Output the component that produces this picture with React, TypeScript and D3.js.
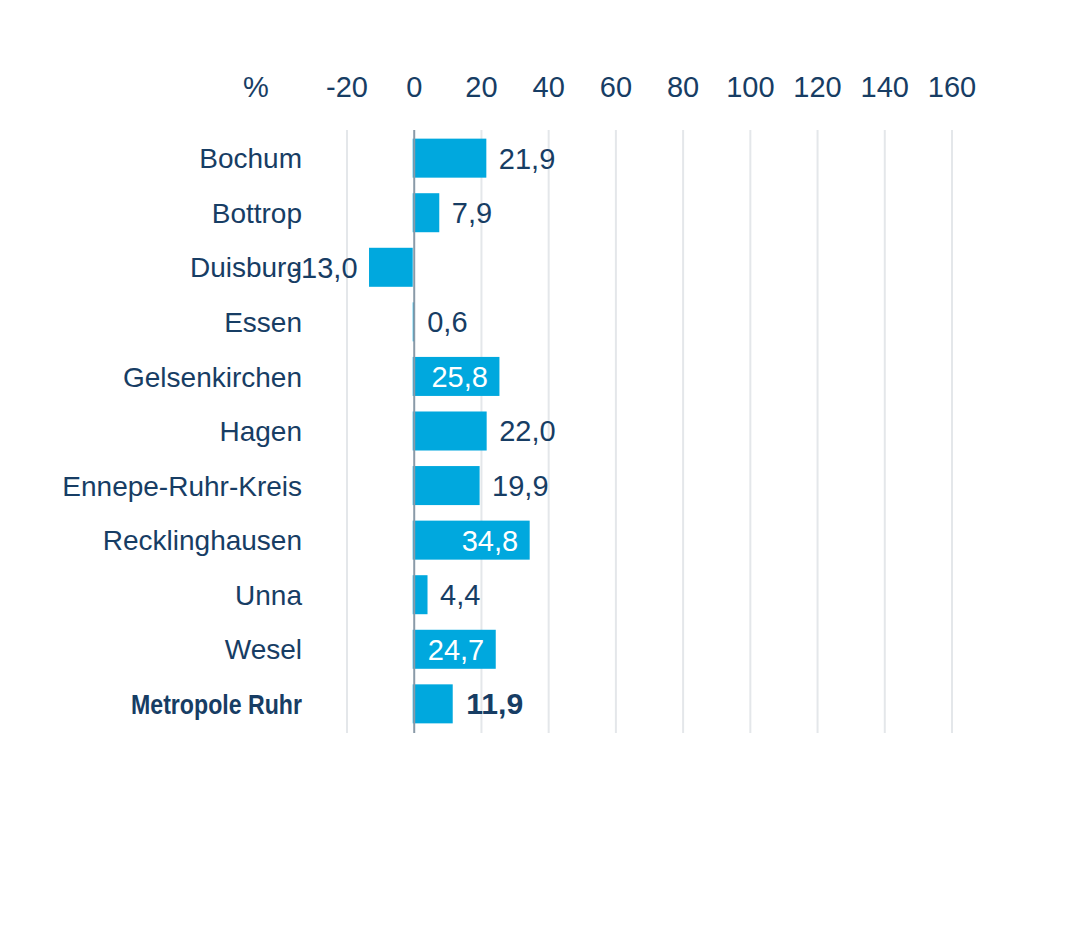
import React from 'react';
import * as d3 from 'd3';

const categories = [
  'Bochum',
  'Bottrop',
  'Duisburg',
  'Essen',
  'Gelsenkirchen',
  'Hagen',
  'Ennepe-Ruhr-Kreis',
  'Recklinghausen',
  'Unna',
  'Wesel',
  'Metropole Ruhr',
];
const values = [21.9, 7.9, -13.0, 0.6, 25.8, 22.0, 19.9, 34.8, 4.4, 24.7, 11.9];
const ticks = [-20, 0, 20, 40, 60, 80, 100, 120, 140, 160];
const totalLabel = 'Metropole Ruhr';
const unit = '%';

const width = 1080;
const height = 950;
const margin = { top: 130, bottom: 217, left: 346, right: 129 };
const navy = '#173d64';
const blue = '#00a8de';
const font = '"Liberation Sans", Arial, sans-serif';

const fmt = (v: number) => v.toFixed(1).replace('.', ',');

const App = () => {
  const x = d3
    .scaleLinear()
    .domain([-20, 160])
    .range([margin.left, width - margin.right]);
  const y = d3
    .scaleBand<string>()
    .domain(categories)
    .range([margin.top + 1, height - margin.bottom - 2])
    .paddingInner(0.285)
    .paddingOuter(0.14);

  return (
    <svg
      width={width}
      height={height}
      style={{ position: 'absolute', left: 0, top: 0, background: '#fff' }}
    >
      <g>
        {ticks
          .filter((t) => t !== 0)
          .map((t) => (
            <line
              key={t}
              x1={x(t) + 1}
              x2={x(t) + 1}
              y1={margin.top}
              y2={height - margin.bottom}
              stroke="#e4e7ea"
              strokeWidth={2}
            />
          ))}
      </g>
      <g fontFamily={font} fontSize={29} fill={navy} textAnchor="middle">
        {ticks.map((t) => (
          <text key={t} x={x(t) + 1} y={97}>
            {t}
          </text>
        ))}
        <text x={256} y={97}>
          {unit}
        </text>
      </g>
      <g>
        {categories.map((c, i) => {
          const v = values[i];
          return (
            <rect
              key={c}
              x={x(Math.min(0, v)) - 0.5}
              y={y(c)}
              width={Math.max(2, Math.abs(x(v) - x(0)))}
              height={y.bandwidth()}
              fill={blue}
            />
          );
        })}
      </g>
      <line
        x1={x(0) + 1}
        x2={x(0) + 1}
        y1={margin.top}
        y2={height - margin.bottom}
        stroke="#8a9aa8"
        strokeWidth={2}
      />
      <g>
        {categories.map((c, i) => {
          const v = values[i];
          const cy = (y(c) ?? 0) + y.bandwidth() / 2;
          const bold = c === totalLabel;
          const inside = v > 24;
          let lx = x(v) + 12;
          let anchor = 'start';
          if (inside || v < 0) {
            lx = x(v) - 12;
            anchor = 'end';
          }
          return (
            <g key={c}>
              <text
                x={302}
                y={cy}
                dy="0.36em"
                textAnchor="end"
                fontFamily={font}
                fontWeight={bold ? 'bold' : 'normal'}
                fontSize={28}
                fill={navy}
                textLength={bold ? 171 : undefined}
                lengthAdjust={bold ? 'spacingAndGlyphs' : undefined}
              >
                {c}
              </text>
              <text
                x={bold ? lx + 1 : lx}
                y={cy}
                dy="0.36em"
                textAnchor={anchor}
                fontFamily={font}
                fontWeight={bold ? 'bold' : 'normal'}
                fontSize={29}
                textLength={bold ? 57 : undefined}
                lengthAdjust={bold ? 'spacingAndGlyphs' : undefined}
                fill={inside ? '#fff' : navy}
              >
                {fmt(v)}
              </text>
            </g>
          );
        })}
      </g>
    </svg>
  );
};

export default App;
